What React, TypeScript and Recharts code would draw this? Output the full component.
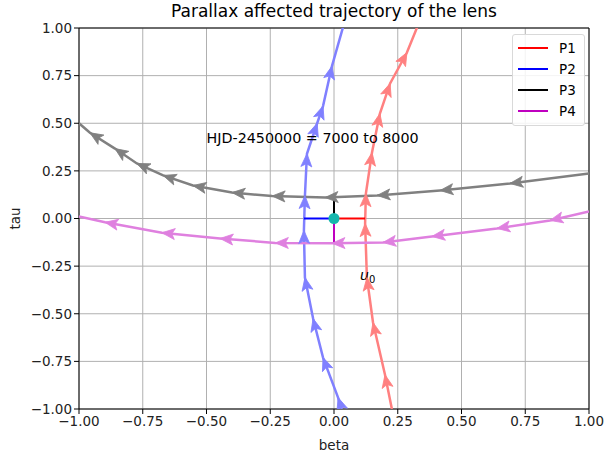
import React from 'react';
import {
  LineChart,
  Line,
  XAxis,
  YAxis,
  CartesianGrid,
  Legend,
  ReferenceArea,
  ReferenceDot,
} from 'recharts';

const FONT = '"DejaVu Sans", Verdana, sans-serif';

const axisTicks = [-1, -0.75, -0.5, -0.25, 0, 0.25, 0.5, 0.75, 1];

const seriesNames = ['P1', 'P2', 'P3', 'P4'];
const seriesColors = ['#ff0000', '#0000ff', '#000000', '#bf00bf'];
// trajectories are drawn at alpha 0.5
const trailColors = ['#ff8080', '#8080ff', '#808080', '#df80df'];

// P1: from bottom to top
const p1Beta = [0.227, 0.2, 0.153, 0.129, 0.122, 0.125, 0.149, 0.18, 0.22, 0.286, 0.337];
const p1Tau = [-1.0, -0.82, -0.546, -0.31, -0.026, 0.131, 0.346, 0.551, 0.709, 0.871, 1.04];

// P2: from bottom to top
const p2Beta = [0.031, 0.016, -0.043, -0.082, -0.114, -0.118, -0.114, -0.106, -0.066, -0.043, -0.008, 0.043];
const p2Tau = [-1.0, -0.94, -0.73, -0.525, -0.31, -0.063, 0.12, 0.34, 0.5, 0.59, 0.8, 1.04];

// P3: from right to left
const p3Beta = [1.0, 0.69, 0.416, 0.169, -0.035, -0.243, -0.4, -0.553, -0.67, -0.773, -0.859, -0.957, -1.0];
const p3Tau = [0.236, 0.184, 0.147, 0.121, 0.11, 0.118, 0.136, 0.173, 0.226, 0.289, 0.367, 0.45, 0.5];

// P4: from right to left
const p4Beta = [1.0, 0.847, 0.639, 0.384, 0.192, -0.008, -0.23, -0.447, -0.675, -0.898, -1.0];
const p4Tau = [0.037, -0.01, -0.052, -0.094, -0.126, -0.13, -0.128, -0.105, -0.075, -0.02, 0.01];

// u0 components for each parameter set
const uBeta = [0.122, -0.118, 0, 0];
const uTau = [0, 0, 0.11, -0.125];

const toPoints = (b: number[], t: number[]) => b.map((beta, i) => ({ beta, tau: t[i] }));

const trails = [
  toPoints(p1Beta, p1Tau),
  toPoints(p2Beta, p2Tau),
  toPoints(p3Beta, p3Tau),
  toPoints(p4Beta, p4Tau),
];

const u0Segments = seriesNames.map((_, i) => [
  { beta: 0, tau: 0 },
  { beta: uBeta[i], tau: uTau[i] },
]);

const formatTick = (v: number) => (v < 0 ? '\u2212' : '') + Math.abs(v).toFixed(2);

// arrow head at every intermediate point, pointing along the trajectory
function makeArrow(color: string) {
  return (props: any) => {
    const { cx, cy, index, points } = props;
    const k = `arrow-${index}`;
    if (!points || index === 0 || index >= points.length - 1 || cx == null) return <g key={k} />;
    const prev = points[index - 1];
    const ang = (Math.atan2(cy - prev.y, cx - prev.x) * 180) / Math.PI;
    return (
      <path
        key={k}
        d="M0,0 L-13,-5.5 L-10,0 L-13,5.5 Z"
        transform={`translate(${cx},${cy}) rotate(${ang})`}
        fill={color}
        stroke={color}
        strokeWidth={0.8}
        strokeLinejoin="round"
      />
    );
  };
}

const renderLegend = () => (
  <div
    style={{
      border: '1px solid #d9d9d9',
      borderRadius: 3,
      background: 'rgba(255,255,255,0.85)',
      padding: '2px 8px 4px 5px',
      fontFamily: FONT,
      fontSize: 13.5,
      color: '#000',
    }}
  >
    {seriesNames.map((name, i) => (
      <div key={name} style={{ display: 'flex', alignItems: 'center', height: 21 }}>
        <svg width={30} height={4} style={{ display: 'block' }}>
          <line x1={0} y1={2} x2={30} y2={2} stroke={seriesColors[i]} strokeWidth={2} />
        </svg>
        <span style={{ marginLeft: 11 }}>{name}</span>
      </div>
    ))}
  </div>
);

export default function App() {
  return (
    <div style={{ position: 'absolute', top: 0, left: 0, width: 605, height: 458, background: '#fff' }}>
      <div
        style={{
          position: 'absolute',
          top: 1,
          left: 79,
          width: 510,
          textAlign: 'center',
          fontFamily: FONT,
          fontSize: 17,
          color: '#000',
        }}
      >
        Parallax affected trajectory of the lens
      </div>
      <LineChart width={605} height={458} margin={{ top: 28, right: 16, bottom: 0, left: 0 }}>
        <CartesianGrid stroke="#b0b0b0" strokeWidth={1} />
        <XAxis
          type="number"
          dataKey="beta"
          domain={[-1, 1]}
          ticks={axisTicks}
          allowDataOverflow
          height={49}
          tickFormatter={formatTick}
          axisLine={false}
          tickLine={{ stroke: '#000' }}
          tickSize={5}
          tick={{ fill: '#222', fontFamily: FONT, fontSize: 13.5 }}
          label={{ value: 'beta', position: 'insideBottom', offset: 8, fill: '#222', fontFamily: FONT, fontSize: 13.5 }}
        />
        <YAxis
          type="number"
          dataKey="tau"
          domain={[-1, 1]}
          ticks={axisTicks}
          allowDataOverflow
          width={79}
          tickFormatter={formatTick}
          axisLine={false}
          tickLine={{ stroke: '#000' }}
          tickSize={5}
          tick={{ fill: '#222', fontFamily: FONT, fontSize: 13.5 }}
          label={{
            value: 'tau',
            angle: -90,
            position: 'insideLeft',
            offset: 15,
            fill: '#222',
            fontFamily: FONT,
            fontSize: 13.5,
            style: { textAnchor: 'middle' },
          }}
        />
        {trails.map((pts, i) => (
          <Line
            key={seriesNames[i]}
            data={pts}
            dataKey="tau"
            type="linear"
            stroke={trailColors[i]}
            strokeWidth={2.5}
            dot={makeArrow(trailColors[i])}
            activeDot={false}
            legendType="none"
            isAnimationActive={false}
          />
        ))}
        {u0Segments.map((pts, i) => (
          <Line
            key={`u0-${seriesNames[i]}`}
            name={seriesNames[i]}
            data={pts}
            dataKey="tau"
            type="linear"
            stroke={seriesColors[i]}
            strokeWidth={2}
            dot={false}
            activeDot={false}
            isAnimationActive={false}
          />
        ))}
        <ReferenceDot x={0} y={0} r={5.5} fill="#17b7ad" stroke="none" />
        <ReferenceDot
          x={-0.5}
          y={0.42}
          r={0}
          shape={(p: any) => (
            <text x={p.cx} y={p.cy} dy={5} fontFamily={FONT} fontSize={14.3} fill="#000">
              HJD-2450000 = 7000 to 8000
            </text>
          )}
        />
        <ReferenceDot
          x={0.102}
          y={-0.3}
          r={0}
          shape={(p: any) => (
            <text x={p.cx} y={p.cy} dy={4} fontFamily={FONT} fontSize={14} fill="#000">
              <tspan fontStyle="italic">u</tspan>
              <tspan fontSize={10} dy={3}>0</tspan>
            </text>
          )}
        />
        <ReferenceArea x1={-1} x2={1} y1={-1} y2={1} fill="none" fillOpacity={0} stroke="#000" strokeWidth={1} />
        <Legend
          layout="horizontal"
          verticalAlign="middle"
          align="center"
          content={renderLegend}
          wrapperStyle={{ position: 'absolute', top: 34, left: 512, width: 'auto' }}
        />
      </LineChart>
    </div>
  );
}
